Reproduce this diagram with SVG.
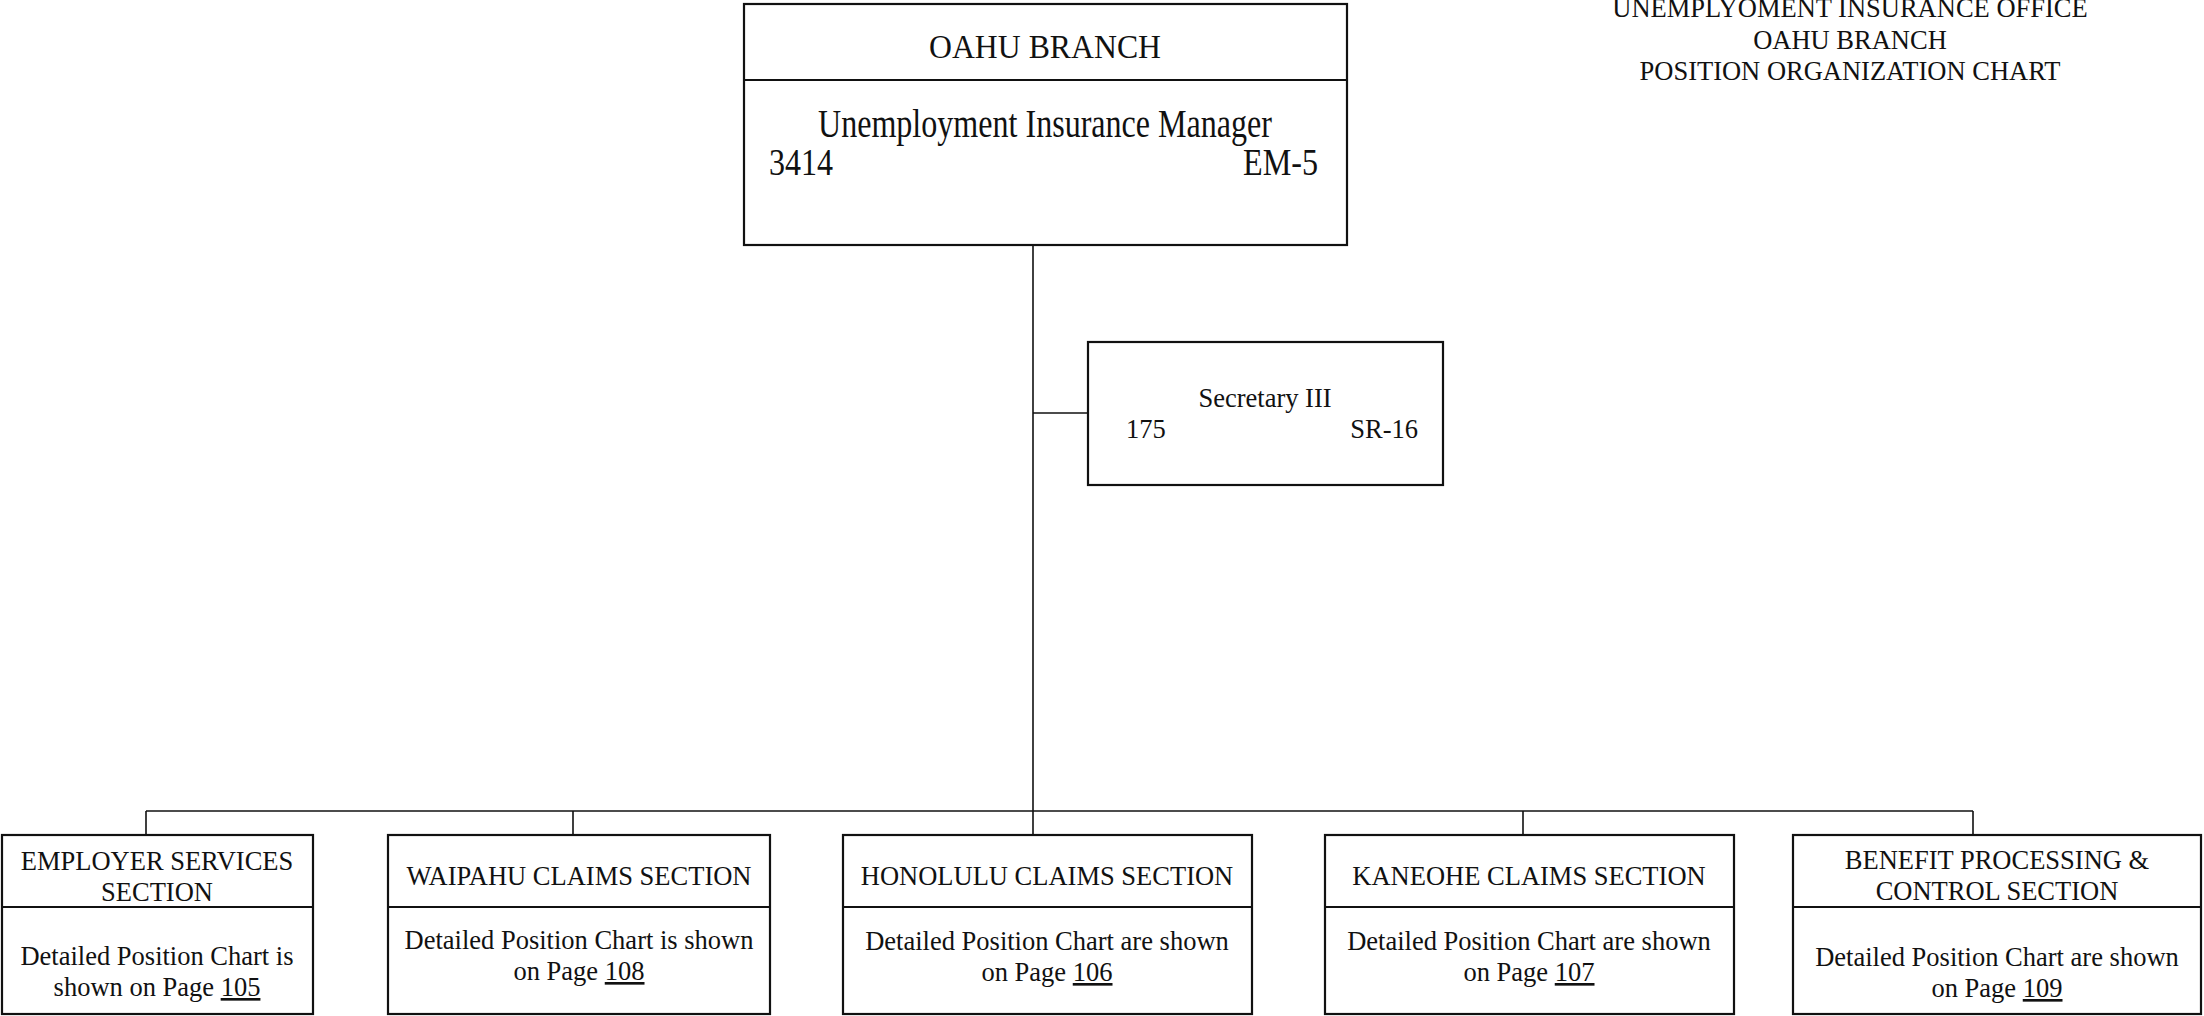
<svg xmlns="http://www.w3.org/2000/svg" width="2204" height="1016" viewBox="0 0 2204 1016">
<style>
text{font-family:"Liberation Serif","Times New Roman",serif;fill:#111;}
.box{fill:#fff;stroke:#111;stroke-width:2.2;}
.div{stroke:#111;stroke-width:2;}
.conn{stroke:#111;stroke-width:1.6;fill:none;}
.t26{font-size:26.5px;}
.c{text-anchor:middle;}
.r{text-anchor:end;}
.u{text-decoration:underline;}
</style>
<rect width="2204" height="1016" fill="#fff"/>
<g id="title">
<text class="t26 c" x="1850" y="17">UNEMPLYOMENT INSURANCE OFFICE</text>
<text class="t26 c" x="1850" y="49">OAHU BRANCH</text>
<text class="t26 c" x="1850" y="80">POSITION ORGANIZATION CHART</text>
</g>
<g id="connectors">
<path class="conn" d="M1033 245V811"/>
<path class="conn" d="M1033 413H1088"/>
<path class="conn" d="M146 811H1973"/>
<path class="conn" d="M146 811V835M573 811V835M1033 811V835M1523 811V835M1973 811V835"/>
</g>
<g id="oahu-branch">
<rect class="box" x="744" y="4" width="603" height="241"/>
<line class="div" x1="744" y1="80" x2="1347" y2="80"/>
<text x="929" y="58" font-size="34" textLength="232" lengthAdjust="spacingAndGlyphs">OAHU BRANCH</text>
<text x="818" y="137" font-size="39" textLength="454" lengthAdjust="spacingAndGlyphs">Unemployment Insurance Manager</text>
<text x="769" y="175" font-size="37" textLength="64" lengthAdjust="spacingAndGlyphs">3414</text>
<text x="1243" y="175" font-size="37" textLength="75" lengthAdjust="spacingAndGlyphs">EM-5</text>
</g>
<g id="secretary">
<rect class="box" x="1088" y="342" width="355" height="143"/>
<text class="t26 c" x="1265" y="407">Secretary III</text>
<text class="t26" x="1126" y="438">175</text>
<text class="t26 r" x="1418" y="438">SR-16</text>
</g>
<g id="employer-services">
<rect class="box" x="2" y="835" width="311" height="179"/>
<line class="div" x1="2" y1="907" x2="313" y2="907"/>
<text class="t26 c" x="157" y="870">EMPLOYER SERVICES</text>
<text class="t26 c" x="157" y="901">SECTION</text>
<text class="t26 c" x="157" y="965">Detailed Position Chart is</text>
<text class="t26 c" x="157" y="996">shown on Page <tspan class="u">105</tspan></text>
</g>
<g id="waipahu">
<rect class="box" x="388" y="835" width="382" height="179"/>
<line class="div" x1="388" y1="907" x2="770" y2="907"/>
<text class="t26 c" x="579" y="885">WAIPAHU CLAIMS SECTION</text>
<text class="t26 c" x="579" y="949">Detailed Position Chart is shown</text>
<text class="t26 c" x="579" y="980">on Page <tspan class="u">108</tspan></text>
</g>
<g id="honolulu">
<rect class="box" x="843" y="835" width="409" height="179"/>
<line class="div" x1="843" y1="907" x2="1252" y2="907"/>
<text class="t26 c" x="1047" y="885">HONOLULU CLAIMS SECTION</text>
<text class="t26 c" x="1047" y="950">Detailed Position Chart are shown</text>
<text class="t26 c" x="1047" y="981">on Page <tspan class="u">106</tspan></text>
</g>
<g id="kaneohe">
<rect class="box" x="1325" y="835" width="409" height="179"/>
<line class="div" x1="1325" y1="907" x2="1734" y2="907"/>
<text class="t26 c" x="1529" y="885">KANEOHE CLAIMS SECTION</text>
<text class="t26 c" x="1529" y="950">Detailed Position Chart are shown</text>
<text class="t26 c" x="1529" y="981">on Page <tspan class="u">107</tspan></text>
</g>
<g id="benefit-processing">
<rect class="box" x="1793" y="835" width="408" height="179"/>
<line class="div" x1="1793" y1="907" x2="2201" y2="907"/>
<text class="t26 c" x="1997" y="869">BENEFIT PROCESSING &amp;</text>
<text class="t26 c" x="1997" y="900">CONTROL SECTION</text>
<text class="t26 c" x="1997" y="966">Detailed Position Chart are shown</text>
<text class="t26 c" x="1997" y="997">on Page <tspan class="u">109</tspan></text>
</g>
</svg>
